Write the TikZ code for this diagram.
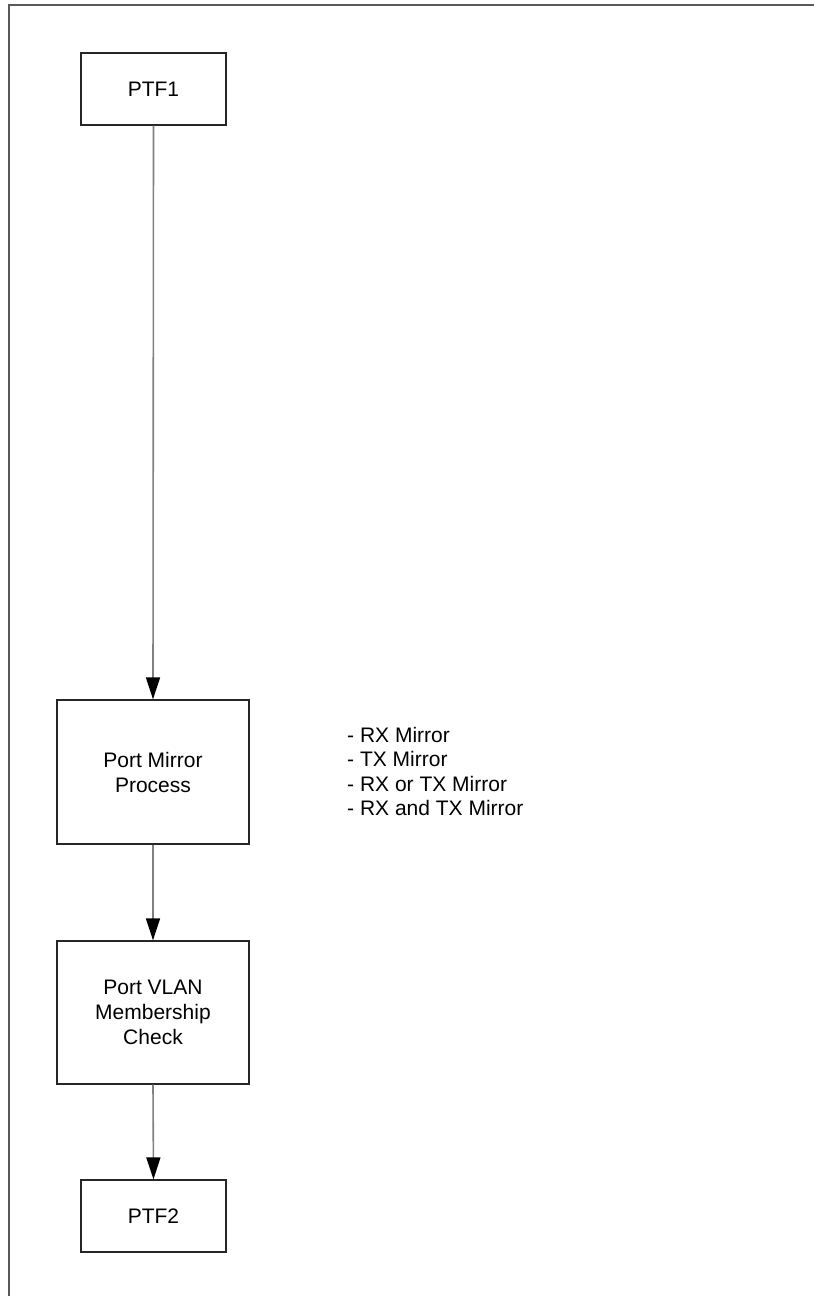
\documentclass[tikz,border=0pt]{standalone}
\usepackage{fontspec}
\setmainfont{Liberation Sans}
\usetikzlibrary{arrows.meta}
\begin{document}
\begin{tikzpicture}[x=1pt,y=-1pt,
  box/.style={draw=black!85, line width=1.3pt, rectangle, align=center, inner sep=0pt,
    font=\fontsize{21}{25}\selectfont},
  flow/.style={draw=black!50, line width=1.6pt, -{Triangle[length=22pt,width=14pt,black]}},
  frameline/.style={draw=black!65, line width=2pt},
  listtext/.style={align=left, inner sep=0pt, anchor=north west, font=\fontsize{21}{24.4}\selectfont}]
\useasboundingbox (0,0) rectangle (814,1296);
\fill[white] (0,0) rectangle (814,1296);
\coordinate (fbl) at (9,1296);
\coordinate (ftl) at (9,5);
\coordinate (ftr) at (814,5);
\draw[frameline] (fbl) -- (ftl) -- (ftr);
\node[box, minimum width=145pt, minimum height=72pt] (ptf1) at (153.5,89) {PTF1};
\node[box, minimum width=192pt, minimum height=144pt] (pmp) at (153,772) {Port Mirror\\Process};
\node[box, minimum width=192pt, minimum height=143pt] (vlan) at (153,1012.5) {Port VLAN\\Membership\\Check};
\node[box, minimum width=145pt, minimum height=72pt] (ptf2) at (153.5,1216) {PTF2};
\node[listtext] (list) at (347,727) {- RX Mirror\\- TX Mirror\\- RX or TX Mirror\\- RX and TX Mirror};
\draw[flow] (ptf1.south) -- (pmp.north);
\draw[flow] (pmp.south) -- (vlan.north);
\draw[flow] (vlan.south) -- (ptf2.north);
\end{tikzpicture}
\end{document}
